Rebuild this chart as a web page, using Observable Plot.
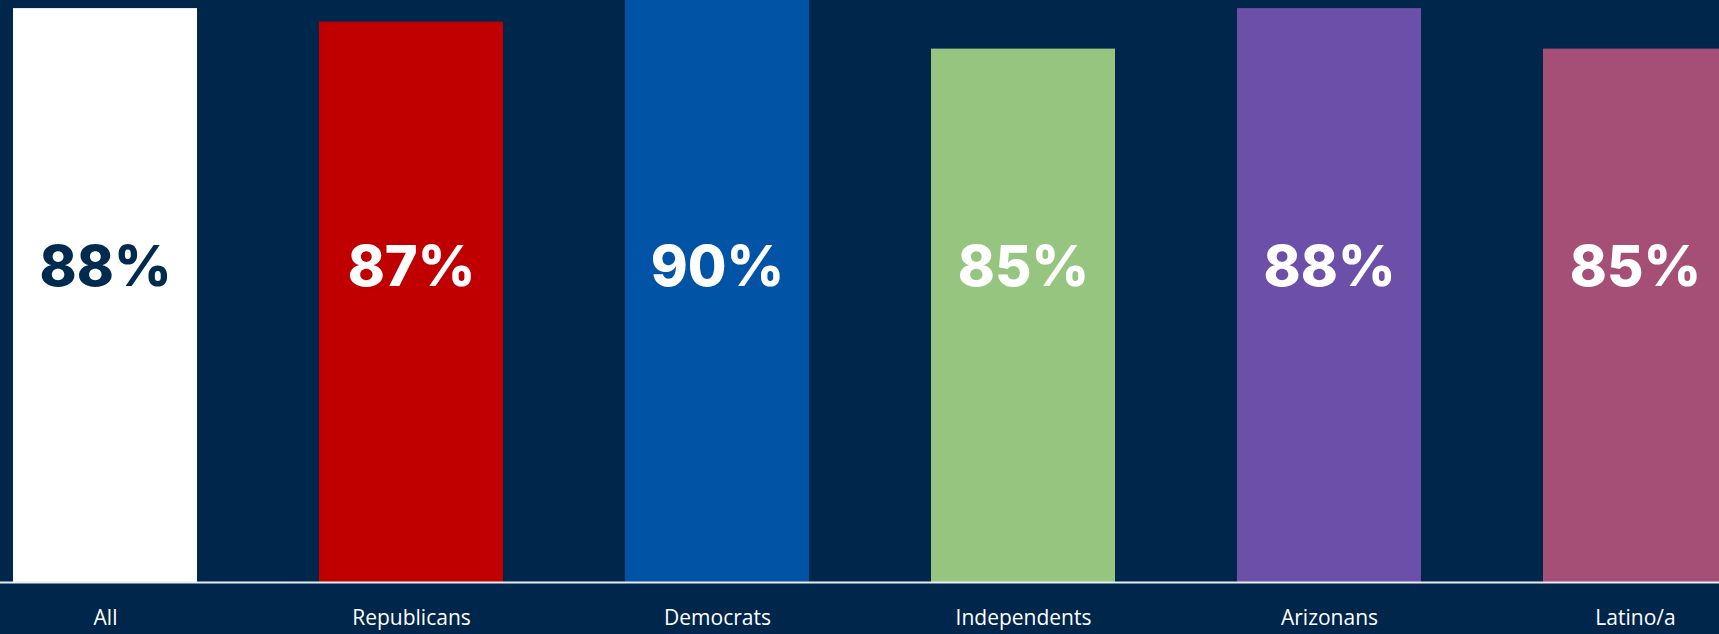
<!DOCTYPE html>
<html>
<head>
<meta charset="utf-8">
<script src="https://cdn.jsdelivr.net/npm/d3@7"></script>
<script src="https://cdn.jsdelivr.net/npm/@observablehq/plot@0.6"></script>
<style>
  html, body { margin: 0; padding: 0; background: #00264b; overflow: hidden; }
  #chart svg { display: block; }
</style>
</head>
<body>
<div id="chart"></div>
<script>
const categories = ["All", "Republicans", "Democrats", "Independents", "Arizonans", "Latino/a"];
const values = [88, 87, 90, 85, 88, 85];
const colors = ["#ffffff", "#c00000", "#0053a5", "#95c57f", "#6b4fa8", "#a54f76"];
const labelColors = ["#012a4f", "#ffffff", "#ffffff", "#ffffff", "#ffffff", "#ffffff"];

const yMin = 45.5, yMax = 88.6;

const data = categories.map((c, i) => ({cat: c, value: values[i], color: colors[i], labelColor: labelColors[i]}));

const chart = Plot.plot({
  width: 1719,
  height: 634,
  marginTop: 0,
  marginBottom: 52,
  marginLeft: 10,
  marginRight: -10,
  style: {background: "#00264b", color: "#ffffff"},
  x: {domain: categories, paddingInner: 0.4, paddingOuter: 0, label: null},
  y: {domain: [yMin, yMax], axis: null},
  marks: [
    Plot.barY(data, {x: "cat", y1: d => yMin, y2: "value", fill: "color", clip: true}),
    Plot.ruleY([yMin], {stroke: "#e8ecf0", strokeWidth: 2, insetLeft: -10}),
    Plot.text(data, {x: "cat", frameAnchor: "middle", dy: -23, text: d => d.value + "%", fill: "labelColor",
      fontSize: 56, fontWeight: 800, fontFamily: "Inter"}),
    Plot.axisX({tickSize: 0, tickPadding: 28, fontSize: 21, fill: "#ffffff", fontFamily: "Open Sans", label: null})
  ]
});
document.getElementById("chart").appendChild(chart);
</script>
</body>
</html>
